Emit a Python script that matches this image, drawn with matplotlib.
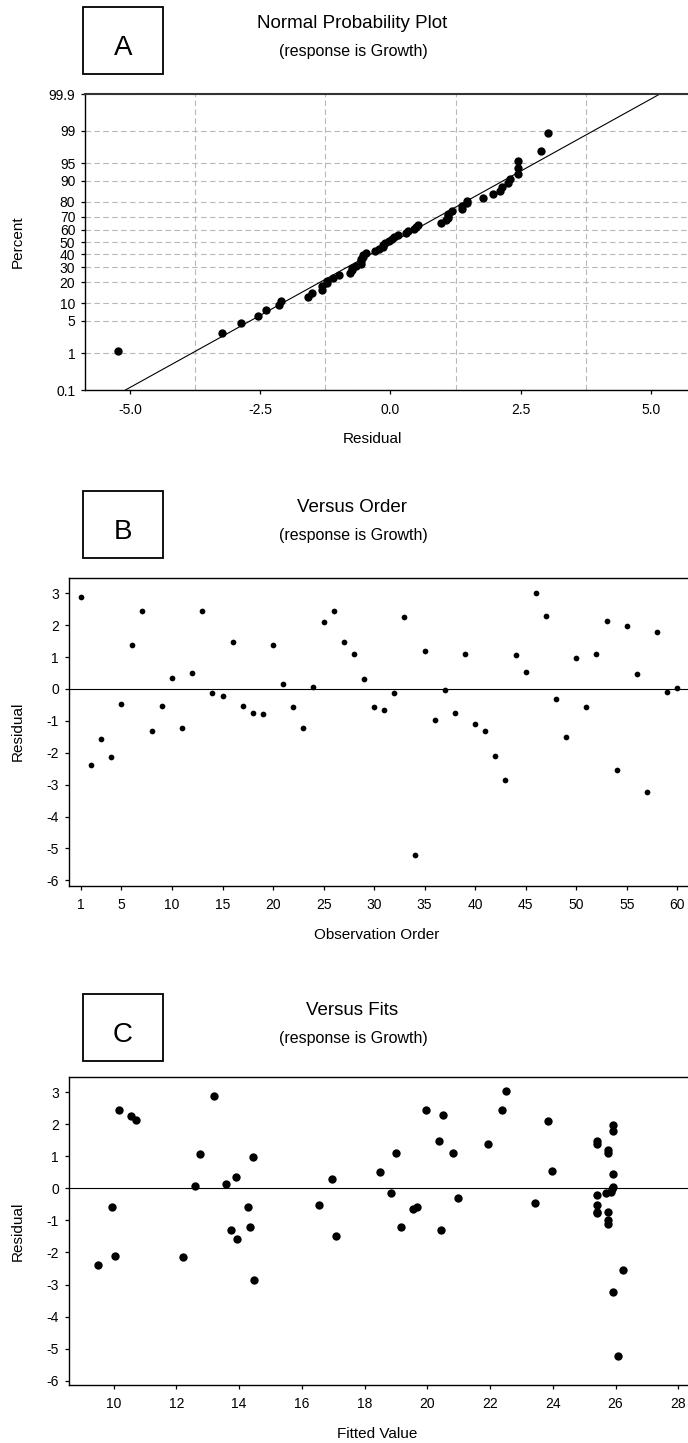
import numpy as np
import matplotlib
matplotlib.use("Agg")
import matplotlib.pyplot as plt
from matplotlib.patches import Rectangle
from statistics import NormalDist

plt.rcParams['font.family'] = ['Liberation Sans', 'DejaVu Sans']
plt.rcParams['axes.unicode_minus'] = False

# Residuals in observation order (1..60)
residual = [2.89, -2.39, -1.58, -2.14, -0.46, 1.38, 2.45, -1.31, -0.53, 0.34,
            -1.22, 0.50, 2.45, -0.14, -0.22, 1.46, -0.53, -0.74, -0.78, 1.38,
            0.15, -0.57, -1.22, 0.06, 2.10, 2.45, 1.46, 1.10, 0.30, -0.57,
            -0.66, -0.14, 2.26, -5.22, 1.18, -0.98, -0.02, -0.74, 1.10, -1.10,
            -1.31, -2.10, -2.86, 1.06, 0.53, 3.02, 2.30, -0.30, -1.50, 0.98,
            -0.57, 1.10, 2.14, -2.54, 1.97, 0.46, -3.24, 1.78, -0.10, 0.03]

# Fitted values, same order
fitted = [13.20, 9.51, 13.94, 12.21, 23.43, 21.95, 10.17, 13.73, 16.55, 13.90,
          14.35, 18.48, 19.96, 18.85, 25.40, 20.37, 25.40, 25.77, 25.40, 25.40,
          13.57, 9.94, 19.15, 12.59, 23.84, 22.38, 25.40, 19.01, 16.97, 14.30,
          19.54, 25.70, 10.57, 26.09, 25.77, 25.77, 25.90, 25.42, 20.82, 25.77,
          20.44, 10.05, 14.47, 12.75, 23.96, 22.50, 20.49, 20.98, 17.10, 14.43,
          19.66, 25.77, 10.71, 26.23, 25.93, 25.93, 25.93, 25.93, 25.84, 25.93]

pct_ticks = [0.1, 1, 5, 10, 20, 30, 40, 50, 60, 70, 80, 90, 95, 99, 99.9]
pct_labels = ["0.1", "1", "5", "10", "20", "30", "40", "50", "60", "70",
              "80", "90", "95", "99", "99.9"]
res_ticks = [3, 2, 1, 0, -1, -2, -3, -4, -5, -6]
order_ticks = [1, 5, 10, 15, 20, 25, 30, 35, 40, 45, 50, 55, 60]
fit_ticks = [10, 12, 14, 16, 18, 20, 22, 24, 26, 28]

W, H = 688, 1443
nd = NormalDist()
z = lambda p: nd.inv_cdf(p / 100.0)

fig = plt.figure(figsize=(W / 100, H / 100), dpi=100)


def px_axes(left, top, bottom):
    return fig.add_axes([left / W, 1 - bottom / H, (W - left) / W, (bottom - top) / H])


def header(letter, y0, title):
    # letter box, title and subtitle; y0 is top of the letter box in pixels
    fig.add_artist(Rectangle((83 / W, 1 - (y0 + 67) / H), 80 / W, 67 / H,
                             transform=fig.transFigure, fill=False,
                             edgecolor='black', linewidth=1.3))
    fig.text(123 / W, 1 - (y0 + 48) / H, letter, fontsize=20, ha='center', va='baseline')
    fig.text(352 / W, 1 - (y0 + 21) / H, title, fontsize=13.5, ha='center', va='baseline')
    fig.text(353 / W, 1 - (y0 + 49) / H, "(response is Growth)", fontsize=11.5,
             ha='center', va='baseline')


def style(ax):
    ax.spines['right'].set_visible(False)
    for s in ['left', 'bottom', 'top']:
        ax.spines[s].set_linewidth(1.0)
    ax.tick_params(direction='out', length=3, width=0.9, labelsize=10, pad=4)
    ax.tick_params(axis='x', pad=6)
    ax.set_facecolor('none')


def label(x, y, text, rot=0):
    fig.text(x / W, 1 - y / H, text, rotation=rot, fontsize=11, ha='center', va='center')


res = np.array(residual)
n = len(res)

# ---- A: normal probability plot
ax = px_axes(85, 94, 390)
style(ax)
srt = np.sort(res)
pp = [(i + 1 - 0.3) / (n + 0.4) * 100 for i in range(n)]
ax.scatter(srt, [z(p) for p in pp], s=36, color='black', zorder=3, linewidths=0)
mu, sd = res.mean(), res.std(ddof=1)
zz = np.array([z(0.1), z(99.9)])
ax.plot(mu + sd * zz, zz, color='black', linewidth=0.8, zorder=2)
ax.set_xlim(-5.86, 5.71)
ax.set_ylim(z(0.1), z(99.9))
ax.set_yticks([z(p) for p in pct_ticks])
ax.set_yticklabels(pct_labels)
ax.set_xticks([-5, -2.5, 0, 2.5, 5])
ax.set_xticklabels(["-5.0", "-2.5", "0.0", "2.5", "5.0"])
ax.set_xticks(np.arange(-5, 5.01, 1.25), minor=True)
ax.tick_params(axis='x', which='minor', length=0)
ax.grid(True, axis='x', which='minor', color='#b8b8b8', linestyle=(0, (5, 3)), linewidth=0.8)
ax.grid(True, axis='y', which='major', color='#b8b8b8', linestyle=(0, (5, 3)), linewidth=0.8)
ax.spines['top'].set_linewidth(1.5)
ax.spines['top'].set_color('#333333')
header("A", 7, "Normal Probability Plot")
label(18, 242, "Percent", 90)
label(372, 439, "Residual")

# ---- B: versus order
ax = px_axes(68.7, 578, 885.7)
style(ax)
ax.scatter(np.arange(1, n + 1), res, s=17, color='black', zorder=3, linewidths=0)
ax.axhline(0, color='black', linewidth=0.8)
ax.set_xlim(-0.22, 61.06)
ax.set_ylim(-6.17, 3.48)
ax.set_xticks(order_ticks)
ax.set_yticks(res_ticks)
header("B", 491, "Versus Order")
label(18, 731, "Residual", 90)
label(377, 935, "Observation Order")

# ---- C: versus fits
ax = px_axes(68.7, 1077.3, 1385)
style(ax)
ax.scatter(fitted, res, s=36, color='black', zorder=3, linewidths=0)
ax.axhline(0, color='black', linewidth=0.8)
ax.set_xlim(8.57, 28.31)
ax.set_ylim(-6.13, 3.46)
ax.set_xticks(fit_ticks)
ax.set_yticks(res_ticks)
header("C", 994, "Versus Fits")
label(18, 1231, "Residual", 90)
label(377, 1434, "Fitted Value")

fig.savefig("out.png", dpi=100)
